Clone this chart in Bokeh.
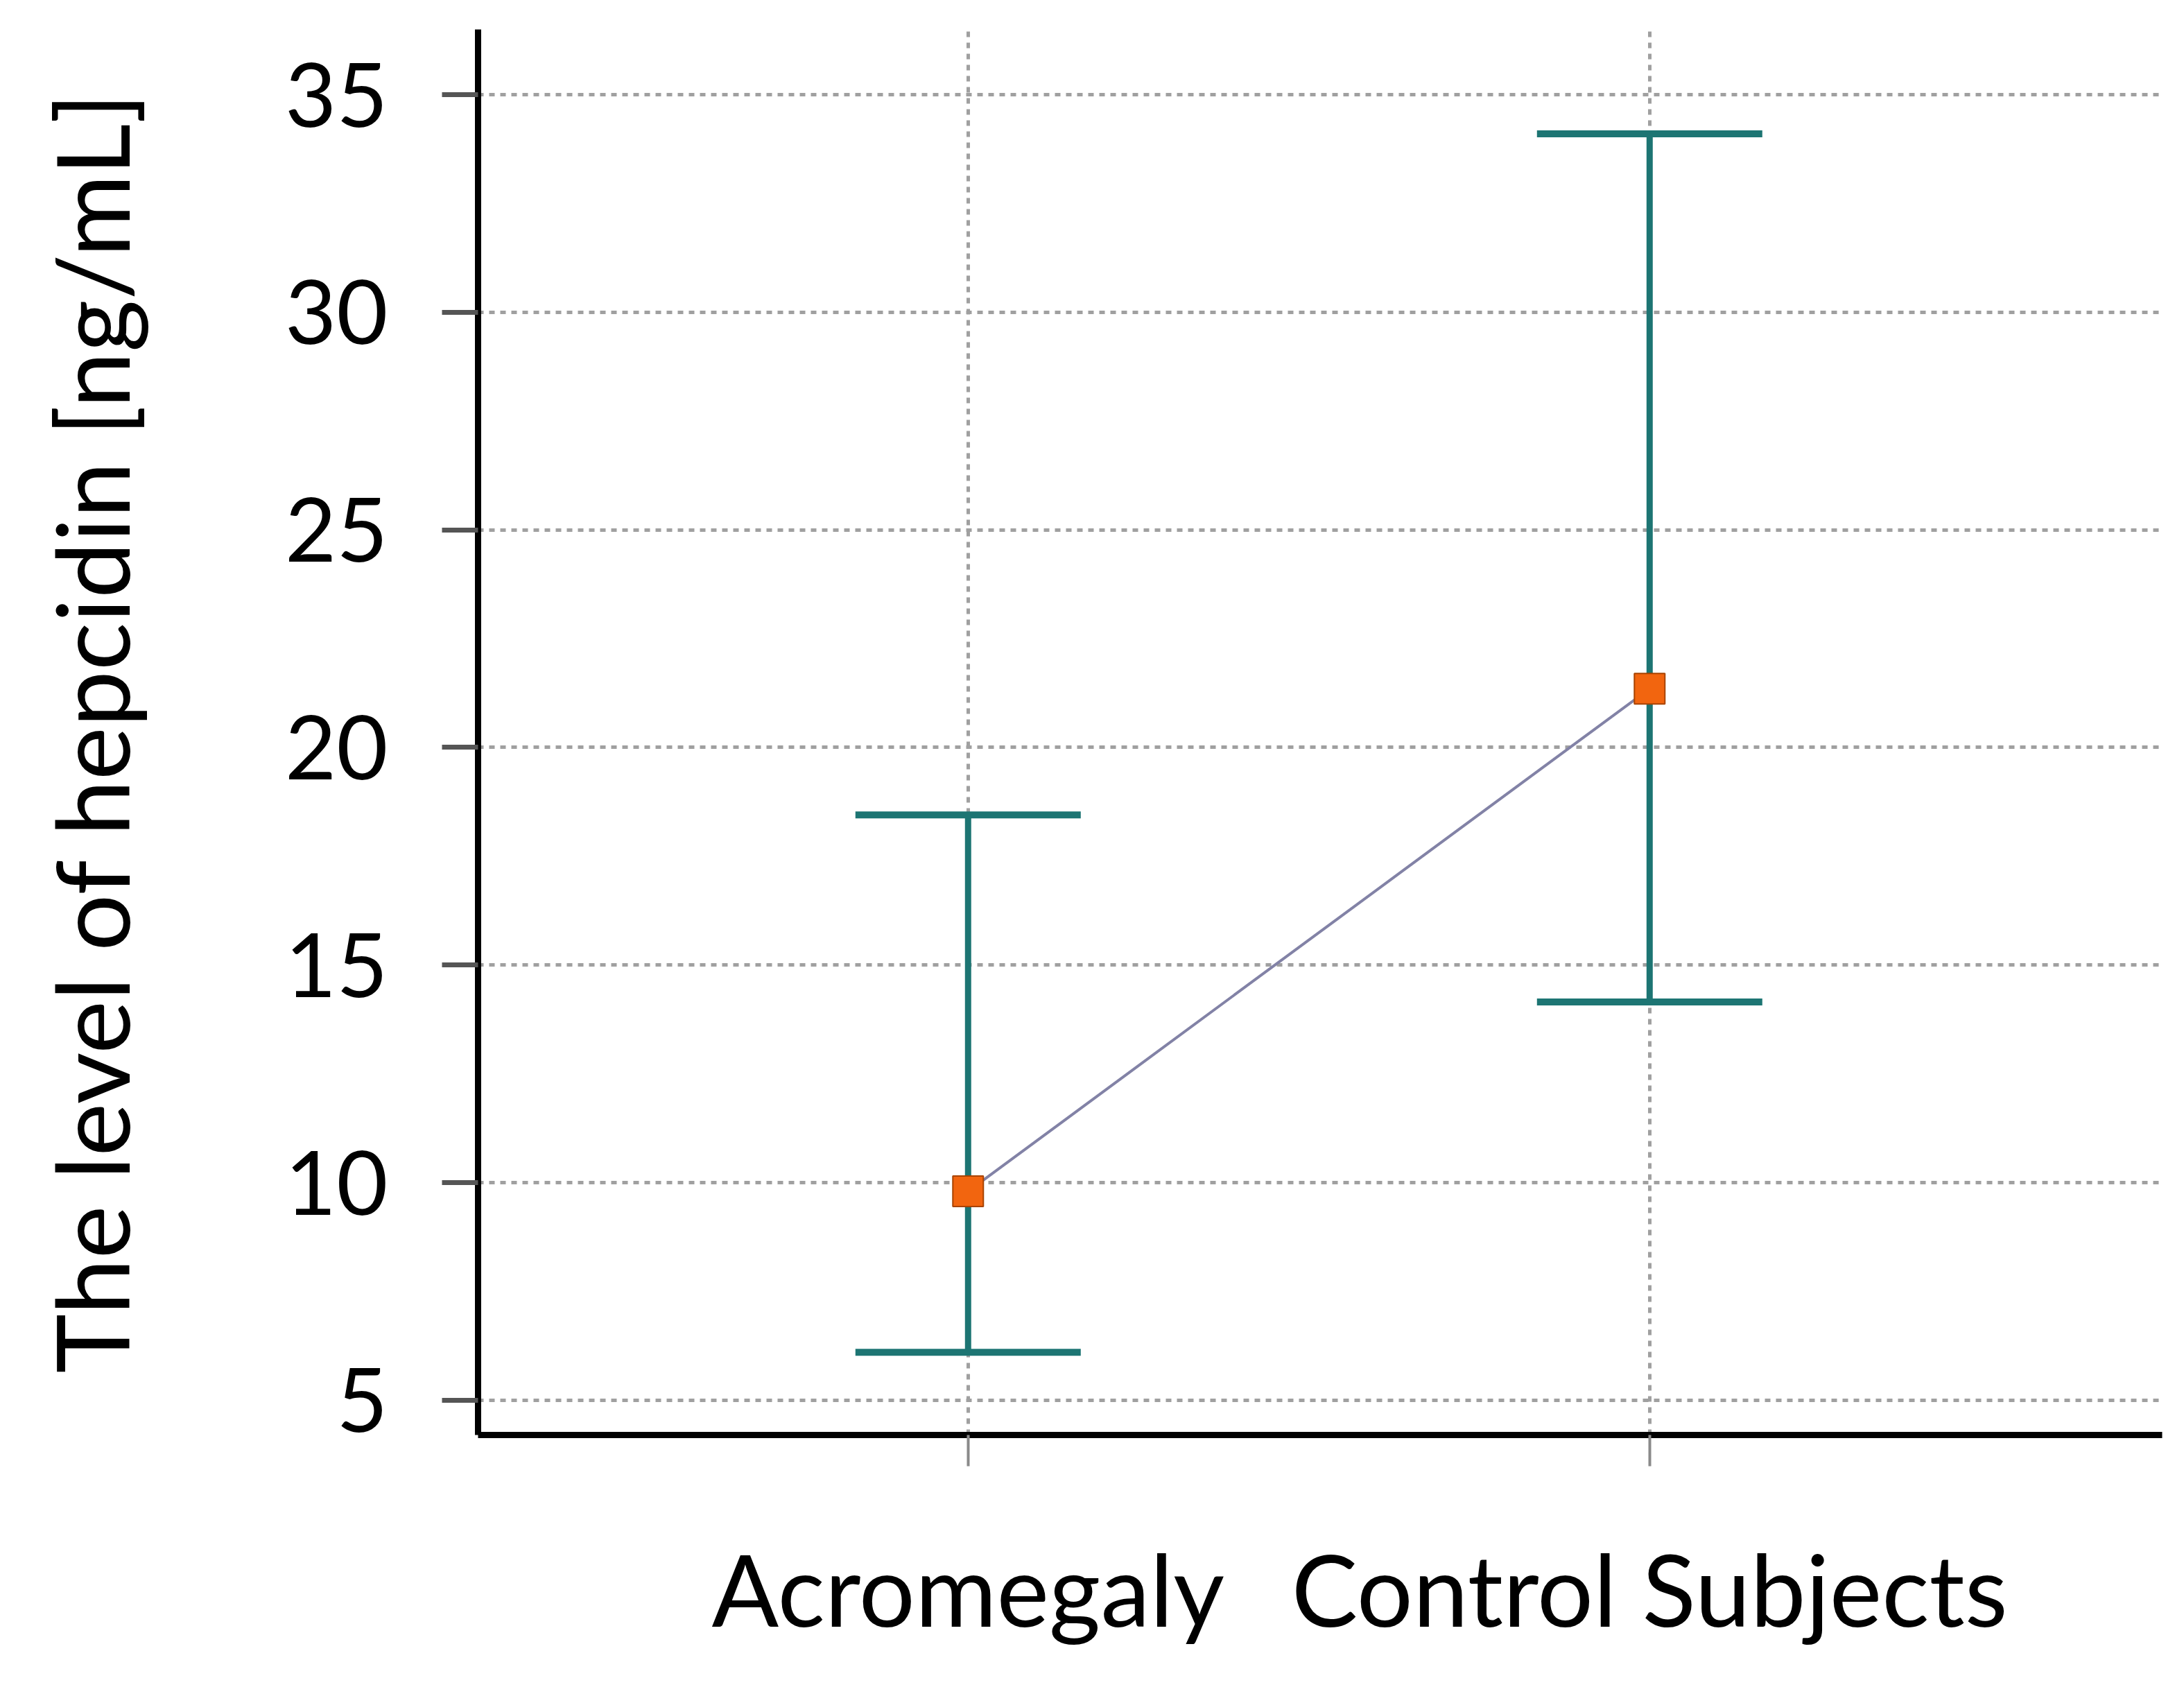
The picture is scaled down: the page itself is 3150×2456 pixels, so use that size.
from bokeh.plotting import figure
from bokeh.models import FixedTicker, ColumnDataSource, Whisker, TeeHead
from bokeh.embed import file_html
from bokeh.resources import INLINE

categories = ["Acromegaly", "Control Subjects"]
means = [9.8, 21.35]
upper = [18.45, 34.1]
lower = [6.1, 14.15]
y_ticks = [5, 10, 15, 20, 25, 30, 35]
y_title = "The level of hepcidin [ng/mL]"

xs = [i + 1 for i in range(len(categories))]
src = ColumnDataSource(dict(x=xs, mean=means, upper=upper, lower=lower))

TEAL = "#1d7573"
FONT = "Lato"

p = figure(width=3134, height=2440, output_backend="svg", toolbar_location=None,
           x_range=(0.281, 2.752), y_range=(4.2, 36.5),
           min_border_left=689, min_border_right=16, min_border_top=42, min_border_bottom=371)
p.outline_line_color = None
p.background_fill_color = "white"
p.border_fill_color = "white"

# grids
p.xgrid.ticker = FixedTicker(ticks=xs)
p.ygrid.ticker = FixedTicker(ticks=y_ticks)
for g in (p.xgrid, p.ygrid):
    g.grid_line_color = "#a0a0a0"
    g.grid_line_width = 5
    g.grid_line_dash = "8 8"

# axes
p.xaxis.ticker = FixedTicker(ticks=xs)
p.xaxis.major_label_overrides = {x: c for x, c in zip(xs, categories)}
p.yaxis.ticker = FixedTicker(ticks=y_ticks)
for ax in (p.xaxis, p.yaxis):
    ax.axis_line_color = "black"
    ax.axis_line_width = 9
    ax.minor_tick_line_color = None
    ax.major_tick_in = 0
    ax.major_label_text_font = FONT
    ax.major_label_text_color = "black"
    ax.axis_label_text_font = FONT
    ax.axis_label_text_font_style = "normal"
    ax.axis_label_text_color = "black"

p.xaxis.major_tick_out = 45
p.xaxis.major_tick_line_color = "#8a8a8a"
p.xaxis.major_tick_line_width = 4
p.xaxis.major_label_text_font_size = "143px"
p.xaxis.major_label_standoff = 90

p.yaxis.major_tick_out = 52
p.yaxis.major_tick_line_color = "#555555"
p.yaxis.major_tick_line_width = 7
p.yaxis.major_label_text_font_size = "128px"
p.yaxis.major_label_standoff = 78
p.yaxis.axis_label = y_title
p.yaxis.axis_label_text_font_size = "145px"
p.yaxis.axis_label_standoff = 190

# error bars
w = Whisker(source=src, base="x", upper="upper", lower="lower",
            line_color=TEAL, line_width=9, level="underlay",
            upper_head=TeeHead(size=325, line_color=TEAL, line_width=10),
            lower_head=TeeHead(size=325, line_color=TEAL, line_width=10))
p.add_layout(w)

# mean line and markers
p.line("x", "mean", source=src, line_color="#8282a6", line_width=4)
p.scatter("x", "mean", source=src, marker="square", size=44,
          fill_color="#f2650f", line_color="#a84300", line_width=2)

open("out.html", "w").write(file_html(p, INLINE))
